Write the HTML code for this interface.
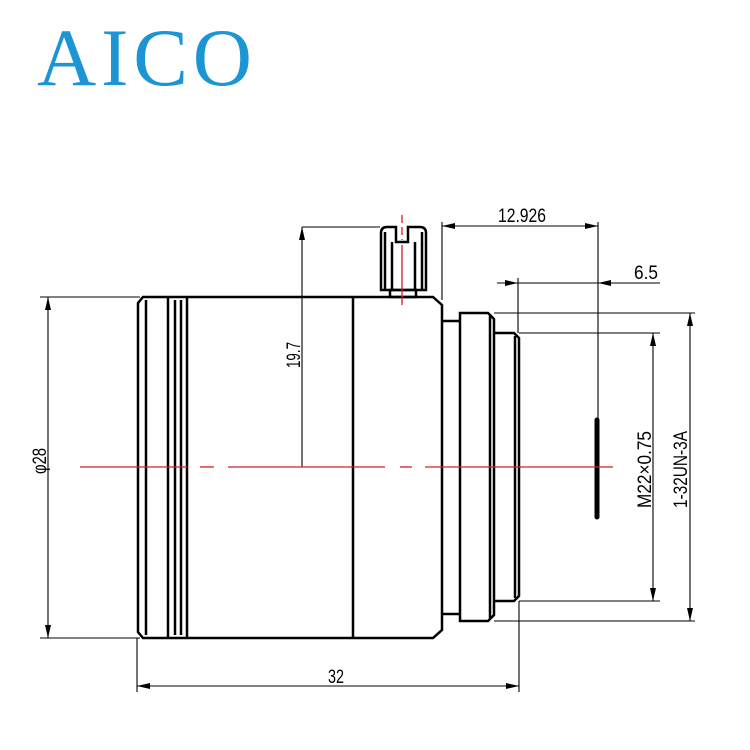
<!DOCTYPE html>
<html><head><style>html,body{margin:0;padding:0;background:#fff}svg{display:block}</style></head>
<body>
<svg width="750" height="750" viewBox="0 0 750 750" xmlns="http://www.w3.org/2000/svg">
<text x="37" y="85" font-family="Liberation Serif, serif" font-size="82" fill="#1b95d4" textLength="215" lengthAdjust="spacing">AICO</text>
<g fill="none" stroke="#000" stroke-width="2.5">
<path d="M143 297 L433 297 L442 305 L442 630 L433 638 L143 638 L138 632 L138 303 Z"/>
<line x1="146" y1="300" x2="146" y2="635"/>
<line x1="168" y1="297" x2="168" y2="638"/>
<line x1="175" y1="300" x2="175" y2="635"/>
<line x1="181" y1="300" x2="181" y2="635"/>
<line x1="187" y1="297" x2="187" y2="638"/>
<line x1="353" y1="297" x2="353" y2="638"/>
<path d="M442 321 L460 321 M442 614 L460 614"/>
<path d="M460 313 L488 313 L494 319 L494 615 L488 621 L460 621 Z"/>
<line x1="490" y1="316" x2="490" y2="618"/>
<path d="M494 333 L514 333 L519 338 L519 596 L514 601 L494 601"/>
<line x1="515" y1="336" x2="515" y2="598"/>
<path d="M381 233 Q381 227 387 227 L396 227 L396 242 L408 242 L408 227 L420 227 Q426 227 426 233 L426 290 L381 290 Z"/>
<line x1="385" y1="232" x2="385" y2="290"/>
<line x1="422" y1="232" x2="422" y2="290"/>
<line x1="392" y1="242" x2="392" y2="290"/>
<line x1="415" y1="242" x2="415" y2="290"/>
<rect x="390" y="290" width="26" height="7"/>
</g>
<g stroke="#000" stroke-width="1.1" fill="none">
<line x1="40" y1="297" x2="140" y2="297"/>
<line x1="40" y1="638" x2="140" y2="638"/>
<line x1="48" y1="297" x2="48" y2="638"/>
<line x1="302" y1="227" x2="380" y2="227"/>
<line x1="302" y1="227" x2="302" y2="467"/>
<line x1="442" y1="222" x2="442" y2="300"/>
<line x1="598" y1="222" x2="598" y2="418"/>
<line x1="442" y1="226" x2="598" y2="226"/>
<line x1="497" y1="283" x2="660" y2="283"/>
<line x1="518" y1="278" x2="518" y2="333"/>
<line x1="519" y1="333" x2="660" y2="333"/>
<line x1="519" y1="601" x2="660" y2="601"/>
<line x1="653" y1="333" x2="653" y2="601"/>
<line x1="494" y1="313" x2="695" y2="313"/>
<line x1="494" y1="621" x2="695" y2="621"/>
<line x1="690" y1="313" x2="690" y2="621"/>
<line x1="137" y1="638" x2="137" y2="692"/>
<line x1="519" y1="601" x2="519" y2="692"/>
<line x1="137" y1="686" x2="519" y2="686"/>
</g>
<line x1="597" y1="420" x2="597" y2="517" stroke="#000" stroke-width="5" stroke-linecap="round"/>
<g fill="#000">
<path d="M48 297 L45 310 L51 310 Z"/><path d="M48 638 L45 625 L51 625 Z"/>
<path d="M302 227 L299 240 L305 240 Z"/>
<path d="M442 226 L455 223 L455 229 Z"/><path d="M598 226 L585 223 L585 229 Z"/>
<path d="M518 283 L505 280 L505 286 Z"/><path d="M598 283 L611 280 L611 286 Z"/>
<path d="M653 333 L650 346 L656 346 Z"/><path d="M653 601 L650 588 L656 588 Z"/>
<path d="M690 313 L687 326 L693 326 Z"/><path d="M690 621 L687 608 L693 608 Z"/>
<path d="M137 686 L150 683 L150 689 Z"/><path d="M519 686 L506 683 L506 689 Z"/>
</g>
<g stroke="#d0202a" stroke-width="1.3">
<line x1="80" y1="467" x2="187" y2="467"/>
<line x1="200" y1="467" x2="214" y2="467"/>
<line x1="228" y1="467" x2="385" y2="467"/>
<line x1="400" y1="467" x2="412" y2="467"/>
<line x1="425" y1="467" x2="613" y2="467"/>
<line x1="402" y1="215" x2="402" y2="240" stroke-dasharray="8,4"/>
<line x1="402" y1="245" x2="402" y2="305"/>
</g>
<g font-family="Liberation Sans, sans-serif" font-size="19" fill="#000">
<text x="498" y="222" textLength="48" lengthAdjust="spacingAndGlyphs">12.926</text>
<text x="634" y="279" textLength="24" lengthAdjust="spacingAndGlyphs">6.5</text>
<text x="328" y="683" textLength="16" lengthAdjust="spacingAndGlyphs">32</text>
<text transform="translate(300,368) rotate(-90)" textLength="26" lengthAdjust="spacingAndGlyphs">19.7</text>
<text transform="translate(46,474) rotate(-90)" textLength="26" lengthAdjust="spacingAndGlyphs">φ28</text>
<text transform="translate(651,508) rotate(-90)" textLength="77" lengthAdjust="spacingAndGlyphs">M22×0.75</text>
<text transform="translate(687,508) rotate(-90)" textLength="77" lengthAdjust="spacingAndGlyphs">1-32UN-3A</text>
</g>
</svg>
</body></html>
